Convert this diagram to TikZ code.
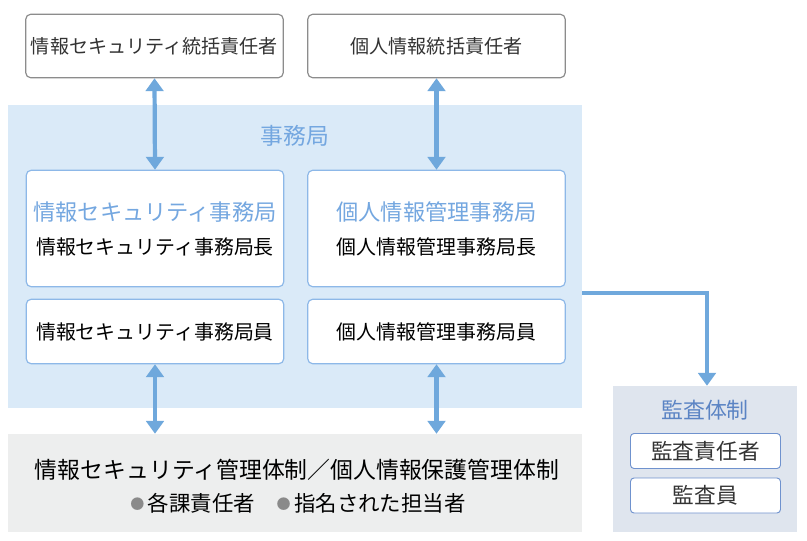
\documentclass[tikz,border=0pt]{standalone}
\usepackage{fontspec}
\setmainfont{Noto Sans CJK JP}
\usetikzlibrary{positioning,arrows.meta}
\definecolor{panelblue}{HTML}{DAEAF8}
\definecolor{panelgray}{HTML}{EDEEEE}
\definecolor{auditbg}{HTML}{DFE5EE}
\definecolor{boxblue}{HTML}{8DB8E8}
\definecolor{auditline}{HTML}{6F92CE}
\definecolor{headblue}{HTML}{74A7E0}
\definecolor{audittext}{HTML}{5B84C4}
\definecolor{arrowblue}{HTML}{6FA8DC}
\definecolor{textgray}{HTML}{333333}
\definecolor{bulgray}{HTML}{8A8A8A}
\newcommand{\bul}{{\color{bulgray}\fontsize{12}{12}\selectfont\raisebox{1.5pt}{●}}}

\begin{document}
\begin{tikzpicture}[x=0.03cm, y=-0.03cm, font=\color{textgray},
    topbox/.style={draw=gray!90, line width=1pt, rounded corners=4pt, fill=white, minimum width=7.72cm, minimum height=1.9cm, font=\fontsize{16.3}{20}\selectfont\color{textgray}},
    officebox/.style={draw=boxblue, line width=1pt, rounded corners=4pt, fill=white, minimum width=7.72cm},
    auditbox/.style={draw=auditline, line width=0.8pt, rounded corners=3pt, fill=white, minimum width=4.5cm, minimum height=1.05cm, font=\fontsize{18.5}{20}\selectfont\color{textgray}},
    conn/.style={draw=arrowblue, line width=3.6pt, -{Triangle[width=15pt,length=11pt]}},
    biconn/.style={conn, {Triangle[width=15pt,length=11pt]}-{Triangle[width=15pt,length=11pt]}}]
    \useasboundingbox (0,0) rectangle (807,541);

    \node[topbox] (secTop) at (154.5,46) {情報セキュリティ統括責任者};
    \node[topbox] (privTop) at (436.5,46) {個人情報統括責任者};

    \node[fill=panelblue, minimum width=17.22cm, minimum height=9.09cm] (jimu) at (295,256.5) {};
    \node[font=\fontsize{19.5}{22}\selectfont\color{headblue}] (jimuLabel) at (295,136) {事務局};

    \node[officebox, minimum height=3.49cm] (secOffice) at (155,228.5) {};
    \node[officebox, minimum height=3.49cm] (privOffice) at (436.5,228.5) {};
    \node[font=\fontsize{19}{22}\selectfont\color{headblue}] (secHead) at (155,212) {情報セキュリティ事務局};
    \node[font=\fontsize{17}{20}\selectfont] (secChief) at (155,247) {情報セキュリティ事務局長};
    \node[font=\fontsize{19}{22}\selectfont\color{headblue}] (privHead) at (436.5,212) {個人情報管理事務局};
    \node[font=\fontsize{17}{20}\selectfont] (privChief) at (436.5,247) {個人情報管理事務局長};

    \node[officebox, minimum height=1.93cm, font=\fontsize{17}{20}\selectfont] (secStaff) at (155,331.5) {情報セキュリティ事務局員};
    \node[officebox, minimum height=1.93cm, font=\fontsize{17}{20}\selectfont] (privStaff) at (436.5,331.5) {個人情報管理事務局員};

    \node[fill=panelgray, minimum width=17.22cm, minimum height=2.94cm] (taisei) at (295,483) {};
    \node[font=\fontsize{19.5}{22}\selectfont] (taiseiTitle) at (297,470) {情報セキュリティ管理体制／個人情報保護管理体制};
    \node[font=\fontsize{18.3}{22}\selectfont] (taiseiMembers) at (298,503) {\bul\,各課責任者\hspace{1em}\bul\,指名された担当者};

    \node[fill=auditbg, minimum width=5.52cm, minimum height=4.38cm] (audit) at (705,459) {};
    \node[font=\fontsize{18.7}{22}\selectfont\color{audittext}] (auditTitle) at (705,410) {監査体制};
    \node[auditbox] (auditChief) at (705.5,451) {監査責任者};
    \node[auditbox] (auditStaff) at (705.5,495.5) {監査員};

    \coordinate (auditOut) at (582,293);

    \draw[biconn] (secTop.south) -- (secOffice.north);
    \draw[biconn] (privTop.south) -- (privOffice.north);
    \draw[biconn] (secStaff.south) -- (taisei.north -| secStaff.south);
    \draw[biconn] (privStaff.south) -- (taisei.north -| privStaff.south);
    \draw[conn] (auditOut) -| ([xshift=0.06cm]audit.north);
\end{tikzpicture}
\end{document}
